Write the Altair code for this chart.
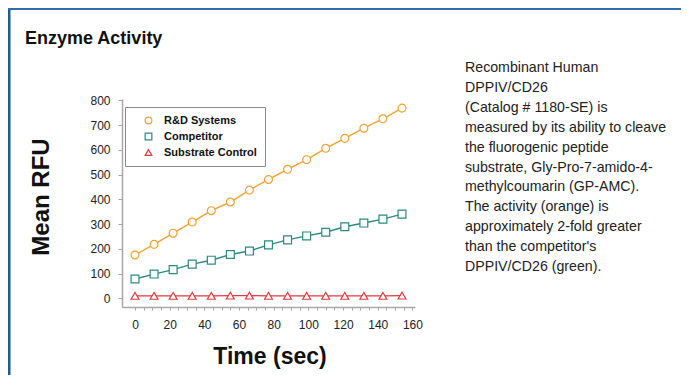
import altair as alt
import pandas as pd

# ---- data ----
times = [0, 11, 22, 33, 44, 55, 66, 77, 88, 99, 110, 121, 132, 143, 154]
rnd_values = [175, 218, 263, 308, 354, 389, 437, 480, 521, 560, 606, 646, 687, 725, 768]
competitor_values = [78, 98, 116, 138, 154, 177, 191, 216, 236, 252, 267, 289, 304, 320, 340]
control_values = [10, 10, 10, 10, 10, 11, 11, 10, 10, 10, 10, 10, 10, 10, 11]

series_names = ["R&D Systems", "Competitor", "Substrate Control"]
series_colors = ["#F0A232", "#2B8A82", "#E23A3E"]
series_shapes = ["circle", "square", "triangle-up"]

x_ticks = [0, 5, 10, 15, 20, 25, 30, 35, 40, 45, 50, 55, 60, 65, 70, 75, 80,
           85, 90, 95, 100, 105, 110, 115, 120, 125, 130, 135, 140, 145, 150, 155, 160]
y_ticks = [0, 100, 200, 300, 400, 500, 600, 700, 800]

title_text = "Enzyme Activity"
x_title = "Time (sec)"
y_title = "Mean RFU"
desc_lines = [
    "Recombinant Human",
    "DPPIV/CD26",
    "(Catalog # 1180-SE) is",
    "measured by its ability to cleave",
    "the fluorogenic peptide",
    "substrate, Gly-Pro-7-amido-4-",
    "methylcoumarin (GP-AMC).",
    "The activity (orange) is",
    "approximately 2-fold greater",
    "than the competitor's",
    "DPPIV/CD26 (green).",
]

rows = []
for name, vals in zip(series_names, [rnd_values, competitor_values, control_values]):
    for t, v in zip(times, vals):
        rows.append({"series": name, "time": t, "rfu": v})
df = pd.DataFrame(rows)
one = pd.DataFrame({"k": [0]})

SANS = "'Liberation Sans', Arial, sans-serif"

W, H = 293, 208
L, T = 114, 91
R, B = 673 - L - W, 367 - T - H

x_scale = alt.Scale(domain=[-7.5, 161.5], nice=False, zero=False)
y_scale = alt.Scale(domain=[-35, 805], nice=False, zero=False)
color_scale = alt.Scale(domain=series_names, range=series_colors)
shape_scale = alt.Scale(domain=series_names, range=series_shapes)

x_axis = alt.Axis(values=x_ticks, labelExpr="datum.value % 20 == 0 ? datum.label : ''",
                  tickSize=3, labelPadding=9, title=None, grid=False, labelFlush=False,
                  labelOverlap=False)
y_axis = alt.Axis(values=y_ticks, tickSize=4, labelPadding=8, title=None, grid=False,
                  labelOverlap=False)
x_enc = alt.X("time:Q", scale=x_scale, axis=x_axis)
y_enc = alt.Y("rfu:Q", scale=y_scale, axis=y_axis)

legend_kw = dict(title=None, orient="none", legendX=3, legendY=8)

base = alt.Chart(df)
line_layers = [
    base.transform_filter(alt.datum.series == name)
        .mark_line(strokeWidth=1.4, color=col)
        .encode(x=x_enc, y=y_enc)
    for name, col in zip(series_names, series_colors)
]
points = base.mark_point(filled=False, fill="white", size=62, strokeWidth=1.2, opacity=1).encode(
    x=x_enc,
    y=y_enc,
    color=alt.Color("series:N", scale=color_scale, legend=alt.Legend(**legend_kw)),
    shape=alt.Shape("series:N", scale=shape_scale, legend=alt.Legend(**legend_kw)),
)

txt = alt.Chart(one)
title_mark = txt.mark_text(font=SANS, fontSize=18, fontWeight="bold", align="left",
                           baseline="alphabetic", color="#111").encode(
    x=alt.value(-97), y=alt.value(-55), text=alt.value(title_text))
desc_mark = txt.mark_text(font=SANS, fontSize=14.2, align="left", baseline="alphabetic",
                          lineHeight=19.9, color="#222").encode(
    x=alt.value(343), y=alt.value(-27), text=alt.value(desc_lines))
xt_mark = txt.mark_text(font=SANS, fontSize=23, fontWeight="bold", align="center",
                        baseline="alphabetic", color="#111").encode(
    x=alt.value(148), y=alt.value(265), text=alt.value(x_title))
yt_mark = txt.mark_text(font=SANS, fontSize=24, fontWeight="bold", align="center",
                        baseline="middle", angle=270, color="#111").encode(
    x=alt.value(-80), y=alt.value(98), text=alt.value(y_title))

frame_left = txt.mark_rule(color="#1E5A98", strokeWidth=3).encode(
    x=alt.value(-L + 1), y=alt.value(-T), y2=alt.value(H + B))
frame_top = txt.mark_rule(color="#2F6FAE", strokeWidth=2).encode(
    x=alt.value(-L), x2=alt.value(W + R), y=alt.value(-T + 1))

chart = alt.layer(
    frame_left, frame_top, *line_layers, points, title_mark, desc_mark, xt_mark, yt_mark
).properties(
    width=W, height=H,
    padding={"left": L, "top": T, "right": R, "bottom": B},
    autosize=alt.AutoSizeParams(type="none"),
    background="white",
).configure_view(stroke=None).configure_axis(
    domainColor="#a8a8a8", domainWidth=1.5, tickColor="#a0a0a0", tickWidth=1,
    labelFont=SANS, labelFontSize=12, labelColor="#222", labelOverlap=False,
).configure_legend(
    strokeColor="#8a8a8a", fillColor="white", padding=8,
    labelFont=SANS, labelFontWeight="bold", labelFontSize=11, labelColor="#111",
    symbolStrokeWidth=1.2, symbolSize=45, rowPadding=3, symbolOffset=10, labelOffset=10,
)

chart.save("out.html", embed_options={"renderer": "svg", "actions": False})
